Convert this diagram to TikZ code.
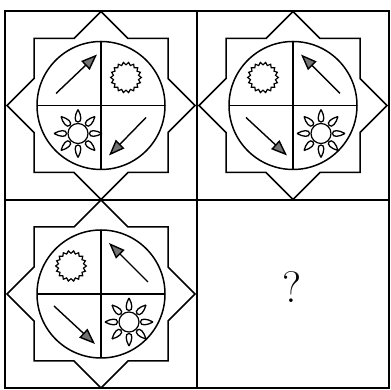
\documentclass[tikz,border=0pt]{standalone}
\usetikzlibrary{arrows.meta}
\begin{document}
\begin{tikzpicture}[x=1pt, y=1pt,
		frame/.style = {draw=black, line width=1.8pt},
		edge/.style  = {draw=black, line width=1.5pt},
		ar/.style    = {-{Triangle[length=16pt, width=12pt, fill=black!55]}, line width=1.4pt},
		starframe/.pic = {
			\draw[edge] (0,94) -- (-27,67) -- (-67,67) -- (-67,27) -- (-94,0) -- (-67,-27)
				-- (-67,-67) -- (-27,-67) -- (0,-94) -- (27,-67) -- (67,-67) -- (67,-27)
				-- (94,0) -- (67,27) -- (67,67) -- (27,67) -- cycle;
			\draw[edge] (0,0) circle (64);
			\draw[edge] (-64,0) -- (64,0);
			\draw[edge] (0,-64) -- (0,64);
		},
		dimsun/.pic = {
			\draw[line width=1.2pt] plot[domain=0:360, samples=37] (\x:{14+1.3*cos(18*\x)}) -- cycle;
		},
		raysun/.pic = {
			\draw[line width=1.2pt] (0,0) circle (10);
			\foreach \a in {0,45,...,315}
				\draw[line width=1.3pt, rotate=\a] (24,0) .. controls (18,3.5) and (11.5,4) .. (11.5,0)
					.. controls (11.5,-4) and (18,-3.5) .. (24,0);
		}
		]
		
		\useasboundingbox (0,0) rectangle (391,390);
		
		%Cells
		\coordinate (ca) at (101,284.5);
		\coordinate (cb) at (293,284.5);
		\coordinate (cc) at (101,96);
		\coordinate (cd) at (293,96);
		
		%Frame
		\draw[frame] (5,2) rectangle (389,379);
		\draw[frame] (197,2) -- (197,379);
		\draw[frame] (5,190) -- (389,190);
		
		%Cell a
		\begin{scope}[shift={(ca)}]
			\pic at (0,0) {starframe};
			\pic at (25,28) {dimsun};
			\pic at (-23,-28) {raysun};
			\draw[ar] (-45,12) -- (-4,51);
			\draw[ar] (45,-12) -- (8,-50);
		\end{scope}
		
		%Cell b
		\begin{scope}[shift={(cb)}]
			\pic at (0,0) {starframe};
			\pic at (-30,28) {dimsun};
			\pic at (28,-28) {raysun};
			\draw[ar] (47,12) -- (8,51);
			\draw[ar] (-47,-12) -- (-6,-50);
		\end{scope}
		
		%Cell c
		\begin{scope}[shift={(cc)}]
			\pic at (0,0) {starframe};
			\pic at (-30,28) {dimsun};
			\pic at (28,-28) {raysun};
			\draw[ar] (47,12) -- (8,51);
			\draw[ar] (-47,-12) -- (-6,-50);
		\end{scope}
		
		%Cell d
		\node (qm) at (292,103) {\fontsize{44}{48}\selectfont ?};
	\end{tikzpicture}
\end{document}
